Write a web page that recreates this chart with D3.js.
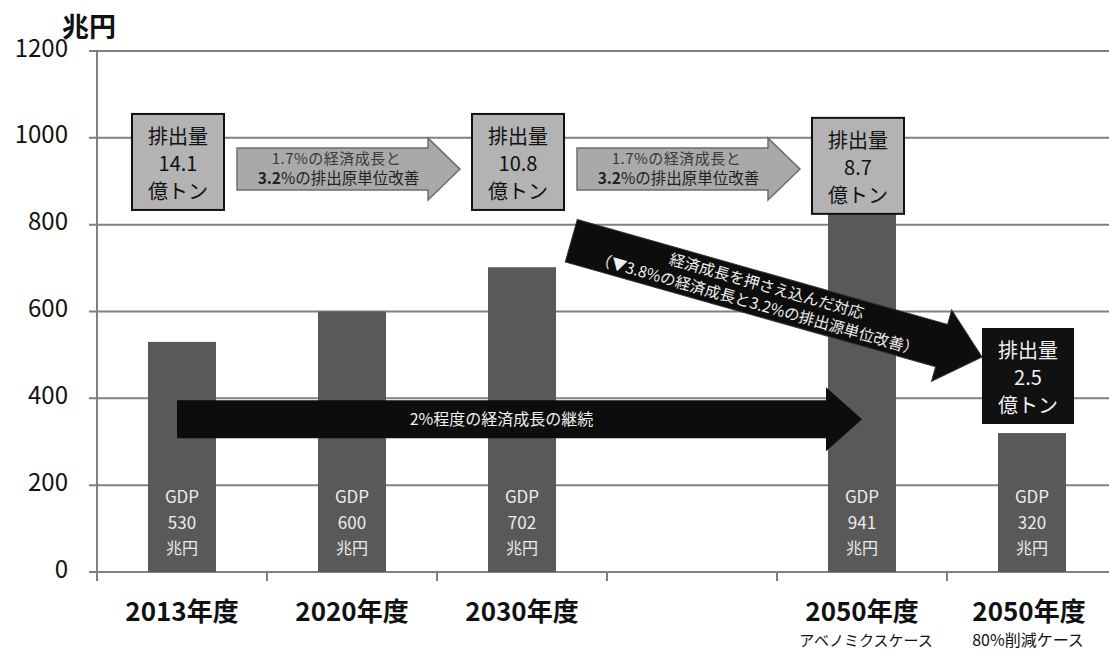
<!DOCTYPE html>
<html lang="ja">
<head>
<meta charset="utf-8">
<script src="https://cdn.jsdelivr.net/npm/d3@7"></script>
<style>
  html, body { margin: 0; padding: 0; background: #fff; }
  svg { display: block; }
  text { font-family: "Noto Sans CJK JP", "Noto Sans", sans-serif; }
</style>
</head>
<body>
<svg id="chart" width="1109" height="653"></svg>
<script>
// --- data -------------------------------------------------------------
const years      = ["2013年度", "2020年度", "2030年度", "", "2050年度", "2050年度"];
const cases      = ["", "", "", "", "アベノミクスケース", "80%削減ケース"];
const gdp        = [530, 600, 702, null, 941, 320];          // 兆円
const emissions  = [14.1, null, 10.8, null, 8.7, 2.5];        // 億トン
const yTicks     = [0, 200, 400, 600, 800, 1000, 1200];
const unitLabel  = "兆円";
const stepText   = ["1.7%の経済成長と", "3.2", "%の排出原単位改善"];
const steadyText = "2%程度の経済成長の継続";
const cutText    = ["経済成長を押さえ込んだ対応", "（▼3.8%の経済成長と3.2%の排出源単位改善）"];

// --- layout -----------------------------------------------------------
const svg = d3.select("#chart");
const plotLeft = 97, plotBottom = 572, plotTop = 51;
const idx = d3.range(years.length);

const x = d3.scalePoint().domain(idx).range([plotLeft, plotLeft + 1020]).padding(0.5);
const step = x.step();
const y = d3.scaleLinear().domain([0, 1200]).range([plotBottom, plotTop]);
const barW = step * 0.4;
const lastIdx = years.length - 1;

const gridColor = "#808080";

// horizontal grid lines
svg.append("g").selectAll("line").data(yTicks).join("line")
  .attr("x1", plotLeft - 8).attr("x2", 1109)
  .attr("y1", d => y(d)).attr("y2", d => y(d))
  .attr("stroke", gridColor).attr("stroke-width", 2);

// vertical axis line
svg.append("line")
  .attr("x1", plotLeft).attr("x2", plotLeft)
  .attr("y1", y(1200)).attr("y2", plotBottom + 9)
  .attr("stroke", gridColor).attr("stroke-width", 2);

// category boundary ticks
svg.append("g").selectAll("line").data(d3.range(years.length + 1)).join("line")
  .attr("x1", i => plotLeft + i * step).attr("x2", i => plotLeft + i * step)
  .attr("y1", plotBottom).attr("y2", plotBottom + 9)
  .attr("stroke", gridColor).attr("stroke-width", 2);

// y tick labels
svg.append("g").selectAll("text").data(yTicks).join("text")
  .attr("x", 68).attr("y", d => y(d) - 3)
  .attr("dy", "0.36em")
  .attr("text-anchor", "end")
  .attr("font-size", 24)
  .attr("fill", "#111")
  .text(d => d);

svg.append("text")
  .attr("x", 62).attr("y", 37)
  .attr("font-size", 27).attr("font-weight", "bold")
  .attr("fill", "#111")
  .text(unitLabel);

// category labels
svg.append("g").selectAll("text").data(idx.filter(i => years[i])).join("text")
  .attr("x", i => x(i) - (i === lastIdx ? 3 : 0)).attr("y", 621)
  .attr("text-anchor", "middle")
  .attr("font-size", 26).attr("font-weight", "bold")
  .attr("fill", "#111")
  .text(i => years[i]);

svg.append("g").selectAll("text").data(idx.filter(i => cases[i])).join("text")
  .attr("x", i => x(i) + (i === lastIdx ? -4 : 4)).attr("y", 646)
  .attr("text-anchor", "middle")
  .attr("font-size", i => i === lastIdx ? 16 : 15)
  .attr("fill", "#111")
  .text(i => cases[i]);

// bars
const barIdx = idx.filter(i => gdp[i] != null);
svg.append("g").selectAll("rect").data(barIdx).join("rect")
  .attr("x", i => x(i) - barW / 2)
  .attr("width", barW)
  .attr("y", i => y(gdp[i]))
  .attr("height", i => plotBottom - y(gdp[i]))
  .attr("fill", "#595959");

// GDP labels inside bars
const gl = svg.append("g").selectAll("text").data(barIdx).join("text")
  .attr("text-anchor", "middle")
  .attr("font-size", 17)
  .attr("fill", "#ececec");
gl.append("tspan").attr("x", i => x(i)).attr("y", 503).text("GDP");
gl.append("tspan").attr("x", i => x(i)).attr("y", 529).text(i => gdp[i]);
gl.append("tspan").attr("x", i => x(i)).attr("y", 554).attr("font-size", 16).text("兆円");

// arrow outline along +x, centred on y = 0
function arrowPath(len, bodyW, headW, headLen) {
  const b = bodyW / 2, h = headW / 2, s = len - headLen;
  return `M0,${-b}L${s},${-b}L${s},${-h}L${len},0L${s},${h}L${s},${b}L0,${b}Z`;
}

// emission boxes
const boxW = 92, boxH = 96;
const boxTop = [1055, null, 1055, null, 1046, 562];
const boxes = svg.append("g").selectAll("g").data(idx.filter(i => emissions[i] != null)).join("g")
  .attr("transform", i => `translate(${x(i) - 4 - boxW / 2},${y(boxTop[i])})`);
boxes.append("rect")
  .attr("x", 0).attr("y", 0).attr("width", boxW).attr("height", boxH)
  .attr("fill", i => i === lastIdx ? "#111" : "#b3b3b3")
  .attr("stroke", "#111")
  .attr("stroke-width", i => i === lastIdx ? 0 : 2);
const bt = boxes.append("text")
  .attr("text-anchor", "middle")
  .attr("font-size", 20)
  .attr("fill", i => i === lastIdx ? "#f2f2f2" : "#111");
bt.append("tspan").attr("x", boxW / 2).attr("y", 30).text("排出量");
bt.append("tspan").attr("x", boxW / 2).attr("y", 57).text(i => emissions[i]);
bt.append("tspan").attr("x", boxW / 2).attr("y", 85).text("億トン");

// grey step arrows between emission boxes
const stepPairs = [[0, 2], [2, 4]];
const stepY = y(928);
const stepLen = d => (x(d[1]) - x(d[0])) - boxW - 25;
const sa = svg.append("g").selectAll("g").data(stepPairs).join("g")
  .attr("transform", d => `translate(${x(d[0]) - 4 + boxW / 2 + 13},${stepY})`);
sa.append("path")
  .attr("d", d => arrowPath(stepLen(d), 42, 62, 32))
  .attr("fill", "#a9a9a9").attr("stroke", "#6e6e6e").attr("stroke-width", 1.5);
sa.append("text")
  .attr("x", d => (stepLen(d) - 32) / 2 + 4)
  .attr("y", -5).attr("text-anchor", "middle")
  .attr("font-size", 15).attr("fill", "#3a3a3a")
  .attr("letter-spacing", 0.5)
  .text(stepText[0]);
const s2 = sa.append("text")
  .attr("x", d => (stepLen(d) - 32) / 2 + 6)
  .attr("y", 15).attr("text-anchor", "middle")
  .attr("font-size", 15.5).attr("fill", "#222");
s2.append("tspan").attr("font-weight", "bold").text(stepText[1]);
s2.append("tspan").text(stepText[2]);

// black arrow: steady growth
const steadyY = y(352);
const steadyX0 = x(0) - 5, steadyX1 = x(4);
const steady = svg.append("g").attr("transform", `translate(${steadyX0},${steadyY})`);
steady.append("path")
  .attr("d", arrowPath(steadyX1 - steadyX0, 38, 64, 36))
  .attr("fill", "#0d0d0d");
steady.append("text")
  .attr("x", (steadyX1 - steadyX0 - 36) / 2).attr("y", 0)
  .attr("dy", "0.36em").attr("text-anchor", "middle")
  .attr("font-size", 16).attr("fill", "#f0f0f0")
  .text(steadyText);

// black diagonal arrow: suppressed growth path
const cx0 = x(2) + 0.29 * step, cy0 = y(763);
const cx1 = x(5) - 4 - boxW / 2, cy1 = y(495);
const cLen = Math.hypot(cx1 - cx0, cy1 - cy0);
const cAng = Math.atan2(cy1 - cy0, cx1 - cx0) * 180 / Math.PI;
const cut = svg.append("g").attr("transform", `translate(${cx0},${cy0}) rotate(${cAng})`);
cut.append("path")
  .attr("d", arrowPath(cLen, 44, 74, 42))
  .attr("fill", "#0d0d0d").attr("stroke", "#333").attr("stroke-width", 1);
cut.append("text")
  .attr("x", (cLen - 42) / 2 + 8).attr("y", -4)
  .attr("text-anchor", "middle")
  .attr("font-size", 15.5).attr("fill", "#f0f0f0")
  .text(cutText[0]);
cut.append("text")
  .attr("x", (cLen - 42) / 2 + 4).attr("y", 16)
  .attr("text-anchor", "middle")
  .attr("font-size", 15.5).attr("fill", "#f0f0f0")
  .text(cutText[1]);
</script>
</body>
</html>
